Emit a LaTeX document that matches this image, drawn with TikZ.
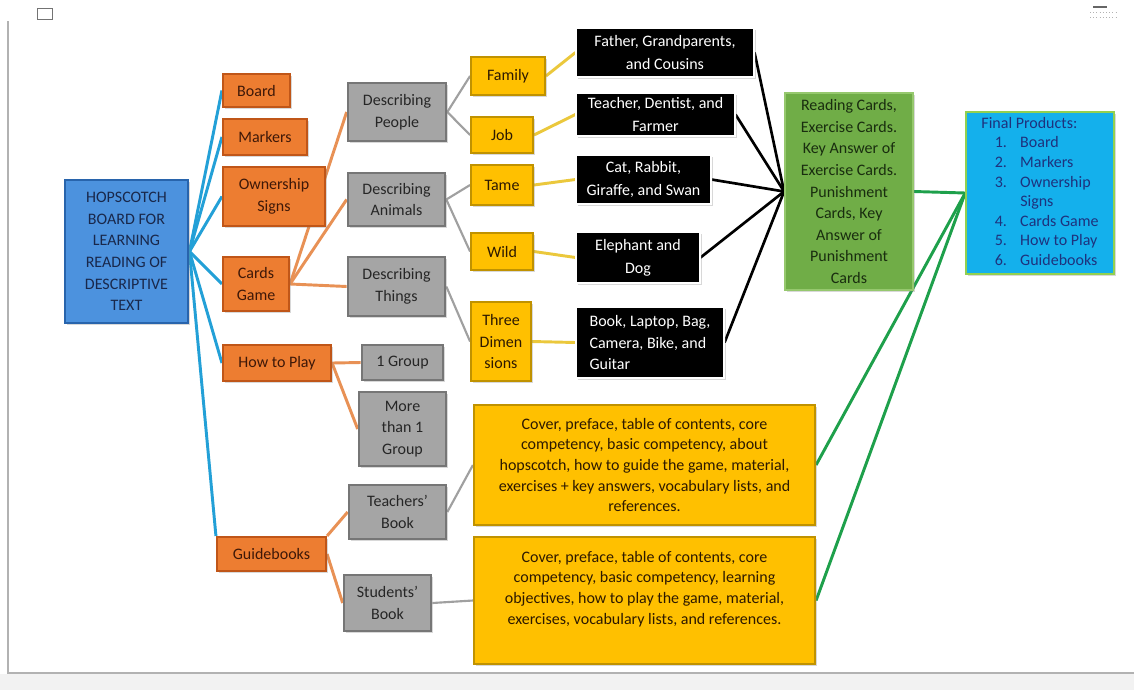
\documentclass[tikz,border=0pt]{standalone}
\usepackage{fontspec}
\setmainfont{Carlito}
\usepackage{tikz}
\usetikzlibrary{backgrounds}
\usetikzlibrary{shadows}

\definecolor{hopfill}{RGB}{76,146,222}
\definecolor{hopline}{RGB}{40,100,172}
\definecolor{hoptext}{RGB}{25,40,75}
\definecolor{orfill}{RGB}{237,125,49}
\definecolor{orline}{RGB}{192,86,24}
\definecolor{ortext}{RGB}{62,24,8}
\definecolor{grfill}{RGB}{165,165,165}
\definecolor{grline}{RGB}{118,118,118}
\definecolor{yefill}{RGB}{255,192,0}
\definecolor{yeline}{RGB}{192,146,0}
\definecolor{yetext}{RGB}{45,25,0}
\definecolor{gnfill}{RGB}{112,173,71}
\definecolor{gnline}{RGB}{150,200,110}
\definecolor{gntext}{RGB}{25,45,15}
\definecolor{fpfill}{RGB}{20,176,236}
\definecolor{fpline}{RGB}{146,208,80}
\definecolor{fptext}{RGB}{30,50,125}
\definecolor{bconn}{RGB}{35,160,215}
\definecolor{oconn}{RGB}{232,145,85}
\definecolor{gconn}{RGB}{160,160,160}
\definecolor{yconn}{RGB}{235,200,60}
\definecolor{cconn}{RGB}{30,160,75}

\begin{document}
\begin{tikzpicture}[x=0.75pt, y=-0.75pt,
  every node/.style={font=\fontsize{12}{16.2}\selectfont},
  box/.style={rectangle, align=center, inner sep=2pt,
    drop shadow={shadow xshift=1.3pt, shadow yshift=-1.3pt, opacity=0.3}},
  mainbox/.style={box, draw=hopline, fill=hopfill, line width=2.2pt, text=hoptext},
  obox/.style={box, draw=orline, fill=orfill, line width=1.6pt, text=ortext},
  gbox/.style={box, draw=grline, fill=grfill, line width=2pt, text=black!85},
  ybox/.style={box, draw=yeline, fill=yefill, line width=1.4pt, text=yetext},
  kbox/.style={box, draw=white, fill=black, line width=0.8pt, text=white,
    font=\fontsize{12}{17.5}\selectfont},
  tbox/.style={box, draw=yeline, fill=yefill, line width=1.6pt, text=yetext,
    font=\fontsize{12}{15.5}\selectfont},
  bline/.style={draw=bconn, line width=2.2pt},
  oline/.style={draw=oconn, line width=2.2pt},
  gline/.style={draw=gconn, line width=1.6pt},
  yline/.style={draw=yconn, line width=2.2pt},
  kline/.style={draw=black, line width=2pt},
  cline/.style={draw=cconn, line width=2.2pt}]

\useasboundingbox (0,0) rectangle (1134,690);

% main and first level
\node [mainbox, minimum width=92.25pt, minimum height=107.25pt] (m) at (126.5,251.5) {HOPSCOTCH\\BOARD FOR\\LEARNING\\READING OF\\DESCRIPTIVE\\TEXT};
\node [obox, minimum width=50.25pt, minimum height=24.75pt] (o1) at (256.5,90.5) {Board};
\node [obox, minimum width=63pt, minimum height=27pt] (o2) at (265,137) {Markers};
\node [obox, minimum width=76.5pt, minimum height=44.25pt] (o3) at (274,196.5) {Ownership\\Signs};
\node [obox, minimum width=49.5pt, minimum height=40.5pt] (o4) at (256,284) {Cards\\Game};
\node [obox, minimum width=81pt, minimum height=27pt] (o5) at (277,363) {How to Play};
\node [obox, minimum width=81.75pt, minimum height=25.5pt] (o6) at (271.5,554) {Guidebooks};

% second level
\node [gbox, minimum width=73.5pt, minimum height=43.5pt] (g1) at (397,112) {Describing\\People};
\node [gbox, minimum width=72.75pt, minimum height=39.75pt] (g2) at (396.5,199.5) {Describing\\Animals};
\node [gbox, minimum width=72.75pt, minimum height=44.25pt] (g3) at (396.5,286.5) {Describing\\Things};
\node [gbox, minimum width=60.75pt, minimum height=26.25pt] (g4) at (402.5,362.5) {1 Group};
\node [gbox, minimum width=65.25pt, minimum height=55.5pt] (g5) at (402.5,429) {More\\than 1\\Group};
\node [gbox, minimum width=72.75pt, minimum height=40.5pt] (g6) at (397.5,512) {Teachers'\\Book};
\node [gbox, minimum width=65.25pt, minimum height=42pt] (g7) at (387.5,603) {Students'\\Book};

% third level
\node [ybox, minimum width=55.5pt, minimum height=28.5pt] (y1) at (508,76) {Family};
\node [ybox, minimum width=46.5pt, minimum height=27pt] (y2) at (502,135) {Job};
\node [ybox, minimum width=46.5pt, minimum height=30pt] (y3) at (502,185) {Tame};
\node [ybox, minimum width=46.5pt, minimum height=27.75pt] (y4) at (502,251.5) {Wild};
\node [ybox, minimum width=45pt, minimum height=59.25pt] (y5) at (501,341.5) {Three\\Dimen\\sions};

\node [kbox, minimum width=133.5pt, minimum height=36.75pt] (k1) at (665,52.5) {Father, Grandparents,\\and Cousins};
\node [kbox, minimum width=119.25pt, minimum height=32.25pt] (k2) at (655.5,114.5) {Teacher, Dentist, and\\Farmer};
\node [kbox, minimum width=101.25pt, minimum height=36.75pt] (k3) at (643.5,179.5) {Cat, Rabbit,\\Giraffe, and Swan};
\node [kbox, minimum width=93pt, minimum height=38.25pt] (k4) at (638,257.5) {Elephant and\\Dog};
\node [kbox, align=left, minimum width=111pt, minimum height=53.25pt, font=\fontsize{12}{15.8}\selectfont] (k5) at (650,342.5) {Book, Laptop, Bag,\\Camera, Bike, and\\Guitar};

\node [tbox, minimum width=255.75pt, minimum height=90pt] (t1) at (644.5,465) {Cover, preface, table of contents, core\\competency, basic competency, about\\hopscotch, how to guide the game, material,\\exercises + key answers, vocabulary lists, and\\references.};
\node [tbox, minimum width=255.75pt, minimum height=95.25pt] (t2) at (644.5,600.5) {Cover, preface, table of contents, core\\competency, basic competency, learning\\objectives, how to play the game, material,\\exercises, vocabulary lists, and references.\\[4pt]\mbox{}};

% outputs
\node [box, draw=gnline, fill=gnfill, line width=1.4pt, text=gntext, minimum width=96pt, minimum height=147.75pt] (c1) at (849,191.5) {Reading Cards,\\Exercise Cards.\\Key Answer of\\Exercise Cards.\\Punishment\\Cards, Key\\Answer of\\Punishment\\Cards};
\node [box, draw=fpline, fill=fpfill, line width=1.2pt, text=fptext, minimum width=111pt, minimum height=120pt, font=\fontsize{12}{14.7}\selectfont] (p1) at (1040,193) {\begin{tabular}{@{\hspace{10pt}}r@{\hspace{10pt}}l@{}}
\multicolumn{2}{@{}l@{}}{Final Products:}\\
1. & Board\\
2. & Markers\\
3. & Ownership\\
 & Signs\\
4. & Cards Game\\
5. & How to Play\\
6. & Guidebooks
\end{tabular}};

% frame of the page
\begin{scope}[on background layer]
\fill[white] (0,0) rectangle (1134,690);
\fill[black!5] (0,674) rectangle (1134,690);
\draw[black!30, line width=0.8pt] (8,21) -- (8,673) -- (1134,673);
\draw[black!55, line width=0.6pt] (37,8) rectangle (52,19);
\draw[black!60, line width=0.8pt] (1093,7) -- (1107,7);
\draw[black!30, dotted] (1090,12) -- (1117,12);
\draw[black!30, dotted] (1090,17) -- (1117,17);
\end{scope}

% connectors
\begin{scope}[on background layer]
\draw[bline] (m.east) -- (o1.west);
\draw[bline] (m.east) -- (o2.west);
\draw[bline] (m.east) -- (o3.west);
\draw[bline] (m.east) -- (o4.west);
\draw[bline] (m.east) -- (o5.west);
\draw[bline] (m.east) -- (o6.north west);

\draw[oline] (o4.east) -- (g1.west);
\draw[oline] (o4.east) -- (g2.west);
\draw[oline] (o4.east) -- (g3.west);
\draw[oline] (o5.east) -- (g4.west);
\draw[oline] (o5.east) -- (g5.west);
\draw[oline] (o6.north east) -- (g6.west);
\draw[oline] (o6.east) -- (g7.west);

\draw[gline] (g1.east) -- (y1.west);
\draw[gline] (g1.east) -- (y2.west);
\draw[gline] (g2.east) -- (y3.west);
\draw[gline] (g2.east) -- (y4.west);
\draw[gline] (g3.east) -- (y5.west);
\draw[gline] (g6.east) -- (t1.west);
\draw[gline] (g7.east) -- (t2.west);

\draw[yline] (y1.east) -- (k1.west);
\draw[yline] (y2.east) -- (k2.west);
\draw[yline] (y3.east) -- (k3.west);
\draw[yline] (y4.east) -- (k4.west);
\draw[yline] (y5.east) -- (k5.west);

\draw[kline] (k1.east) -- (c1.west);
\draw[kline] (k2.east) -- (c1.west);
\draw[kline] (k3.east) -- (c1.west);
\draw[kline] (k4.east) -- (c1.west);
\draw[kline] (k5.east) -- (c1.west);

\draw[cline] (c1.east) -- (p1.west);
\draw[cline] (t1.east) -- (p1.west);
\draw[cline] (t2.east) -- (p1.west);
\end{scope}
\end{tikzpicture}
\end{document}
